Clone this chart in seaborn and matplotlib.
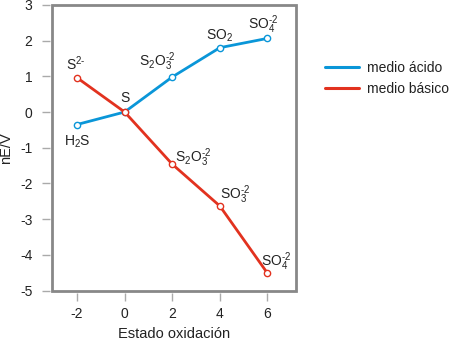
import matplotlib
matplotlib.use("Agg")
import matplotlib.pyplot as plt
import seaborn as sns
import pandas as pd
from matplotlib.patches import Rectangle
from matplotlib.lines import Line2D

sns.set_theme(style="white")
plt.rcParams['font.family'] = ['Liberation Sans', 'DejaVu Sans']
plt.rcParams['mathtext.fontset'] = 'custom'
plt.rcParams['mathtext.rm'] = 'Liberation Sans'
plt.rcParams['mathtext.default'] = 'regular'
plt.rcParams['axes.unicode_minus'] = False

# Data
ox_acid = [-2, 0, 2, 4, 6]
ne_acid = [-0.35, 0.0, 0.98, 1.80, 2.06]
lab_acid = ["H$_2$S", "S", "S$_2$O$_3^{\\text{-}2}$", "SO$_2$", "SO$_4^{\\text{-}2}$"]
ox_basic = [-2, 0, 2, 4, 6]
ne_basic = [0.96, 0.0, -1.46, -2.63, -4.51]
lab_basic = ["S$^{2\\text{-}}$", "", "S$_2$O$_3^{\\text{-}2}$", "SO$_3^{\\text{-}2}$", "SO$_4^{\\text{-}2}$"]
series = ["medio ácido", "medio básico"]
colors = ["#0A96D8", "#E2321F"]
xticks = [-2, 0, 2, 4, 6]
yticks = [-5, -4, -3, -2, -1, 0, 1, 2, 3]

df = pd.DataFrame({
    "ox": ox_acid + ox_basic,
    "ne": ne_acid + ne_basic,
    "medio": [series[0]] * len(ox_acid) + [series[1]] * len(ox_basic),
})

fig = plt.figure(figsize=(4.5, 3.43), dpi=100)
ax = fig.add_axes([0.1156, 0.1525, 0.5422, 0.8335])

sns.lineplot(data=df, x="ox", y="ne", hue="medio", palette=colors, sort=False,
             marker="o", markersize=4.5, markerfacecolor="white", markeredgewidth=1.0,
             linewidth=2.0, ax=ax, legend=False)
for line, c in zip(ax.get_lines(), colors):
    line.set_markeredgecolor(c)

ax.set_xlim(-3.05, 7.2)
ax.set_ylim(-5, 3)
ax.set_xticks(xticks)
ax.set_yticks(yticks)
ax.set_xlabel("Estado oxidación", fontsize=10.5, color="#222222", labelpad=4)
ax.set_ylabel("nE/V", fontsize=10.5, color="#222222", labelpad=5)

for s in ax.spines.values():
    s.set_color("none")
ax.spines['left'].set_position(('outward', 1.5))
ax.spines['bottom'].set_position(('outward', 1.5))
ax.add_patch(Rectangle((0, 0), 1, 1, transform=ax.transAxes, fill=False,
                       edgecolor="#888888", linewidth=2.0, clip_on=False, zorder=5))
ax.tick_params(axis='both', which='major', direction='out', length=5.5, width=1,
               color="#aaaaaa", labelsize=10, labelcolor="#222222", pad=5,
               left=True, bottom=True)
ax.tick_params(axis='y', pad=7)

# labels
off_acid = [(0, -17), (0, 14), (-15, 15), (0, 12), (-4, 14)]
off_basic = [(-1, 14), (0, 0), (21, 6), (15, 11), (9, 11)]
for x, y, t, o in zip(ox_acid, ne_acid, lab_acid, off_acid):
    if t:
        ax.annotate(t, (x, y), xytext=o, textcoords='offset pixels', ha='center',
                    va='center', fontsize=10, color="#222222")
for x, y, t, o in zip(ox_basic, ne_basic, lab_basic, off_basic):
    if t:
        ax.annotate(t, (x, y), xytext=o, textcoords='offset pixels', ha='center',
                    va='center', fontsize=10, color="#222222")

handles = [Line2D([0], [0], color=c, lw=2.2) for c in colors]
fig.legend(handles, series, loc='upper left', bbox_to_anchor=(0.695, 0.86),
           frameon=False, fontsize=10, handlelength=2.4, handletextpad=0.6,
           labelspacing=0.55, labelcolor="#222222")

fig.savefig("out.png", dpi=100)
